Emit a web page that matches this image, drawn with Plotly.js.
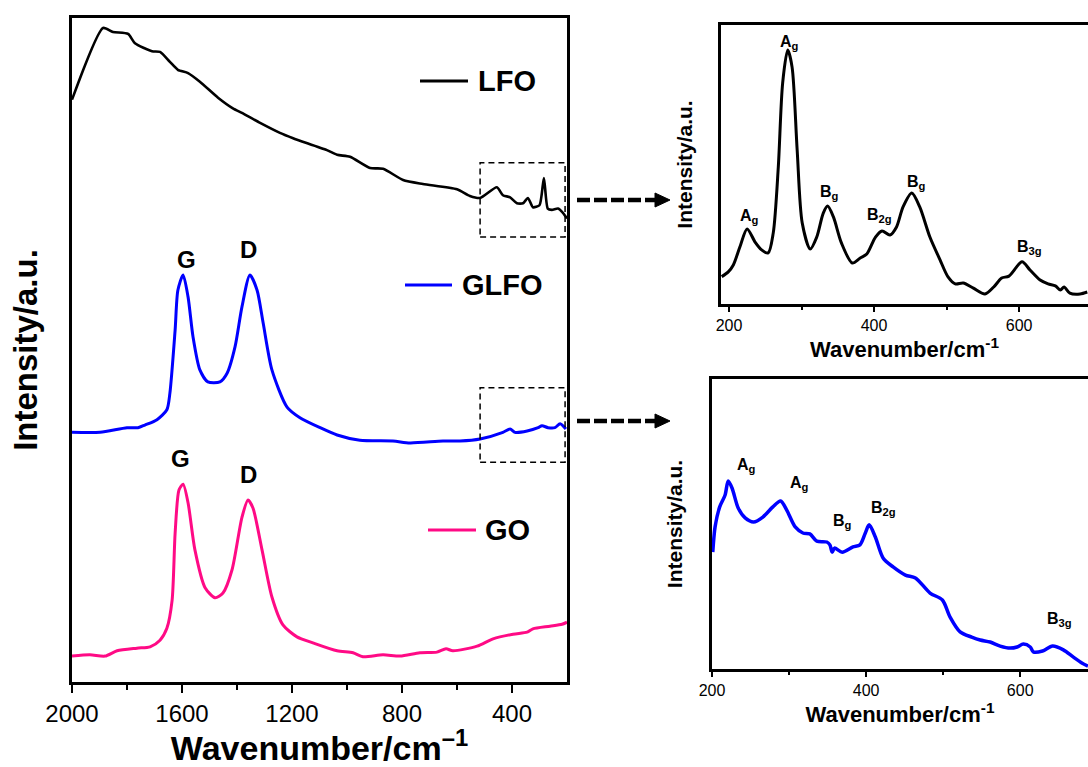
<!DOCTYPE html>
<html><head><meta charset="utf-8">
<script src="https://cdn.plot.ly/plotly-3.0.1.min.js"></script>
<style>html,body{margin:0;padding:0;background:#fff;}#chart{width:1088px;height:767px;}</style>
</head><body><div id="chart"></div>
<script>
// ---------- DATA ----------
const wavenumberLFO = [2000,1887,1851,1796,1771,1709,1680,1644,1615,1578,1535,1469,1415,1382,1316,1244,1196,1073,1036,989,916,869,796,724,600,553,516,455,433,407,382,360,342,324,300,284,270,255,233,218,200];
const intensityLFO  = [87.7,98.5,97.9,97.6,96.2,95.0,94.9,93.4,92.2,91.7,90.4,88.0,86.4,85.7,84.2,82.7,81.9,80.1,79.4,79.1,77.4,77.3,75.6,75.0,74.2,73.2,72.9,74.5,73.3,73.0,72.1,72.1,72.9,71.5,71.8,75.9,71.3,71.1,71.3,70.8,69.8];

const wavenumberGLFO = [2000,1898,1800,1760,1735,1691,1655,1644,1625,1615,1596,1578,1560,1535,1506,1462,1436,1407,1382,1353,1327,1305,1273,1218,1171,1098,1036,953,833,771,651,589,516,433,407,389,345,305,291,269,244,225,204];
const intensityGLFO  = [37.6,37.6,38.3,38.3,38.7,39.5,41.0,43.5,53.0,59.0,61.3,58.0,52.0,47.0,45.2,45.2,46.5,50.5,56.5,61.3,59.0,54.1,47.0,41.4,39.8,38.3,37.2,36.4,36.3,36.0,36.3,36.3,36.6,37.6,38.1,37.6,37.8,38.3,38.6,38.3,38.3,38.9,38.1];

const wavenumberGO = [2000,1935,1880,1836,1764,1716,1680,1655,1636,1625,1611,1596,1578,1553,1516,1480,1451,1418,1382,1360,1342,1309,1273,1233,1182,1124,1036,978,942,869,807,735,673,640,615,527,469,396,345,324,262,218,200];
const intensityGO  = [3.9,4.1,3.9,4.7,5.1,5.3,6.3,8.1,12.3,22.4,28.9,29.8,27.0,19.9,14.2,12.7,13.4,16.9,24.8,27.4,26.2,19.9,12.8,8.6,6.8,5.9,4.7,4.4,3.8,4.1,3.9,4.4,4.5,5.0,4.7,5.4,6.5,7.2,7.5,8.0,8.4,8.7,9.0];

const wavenumberLFOInset = [190,199,206,215,225,236,245,254,261,268,274,281,287,294,301,312,321,330,336,344,355,370,381,390,402,411,422,431,440,452,463,477,491,502,512,523,537,553,565,576,586,604,615,629,640,650,657,662,670,684,694];
const intensityLFOInset  = [9.8,11.5,14.0,20.4,26.9,22.2,19.4,18.3,25.4,49.1,79.2,91.0,84.9,55.2,29.0,19.7,24.0,32.6,35.1,31.2,21.9,14.7,16.5,17.9,24.0,26.2,24.7,27.6,34.8,39.8,34.8,24.0,15.8,9.7,7.2,7.5,5.7,3.6,6.1,9.3,10.0,15.1,12.2,8.6,7.2,6.5,5.0,6.1,3.9,3.6,4.3];

const wavenumberGLFOInset = [201,204,210,217,221,226,234,243,254,266,279,289,297,308,318,327,336,349,353,356,359,369,383,392,399,404,412,422,435,451,464,483,499,509,522,537,548,561,574,587,596,604,613,617,629,642,656,669,680,688];
const intensityGLFOInset  = [40.3,49.0,55.9,60.0,64.8,62.4,55.5,52.1,50.7,52.4,55.9,57.9,54.8,49.0,46.9,46.6,44.1,43.8,42.8,40.3,41.7,40.3,42.1,42.8,46.9,49.7,45.5,38.3,35.2,32.4,31.4,26.2,23.8,17.9,12.8,11.0,10.0,9.3,7.9,7.2,7.6,8.6,7.6,5.9,6.2,7.9,6.6,4.1,2.1,1.0];

const seriesNames = ['LFO', 'GLFO', 'GO'];
const mainTickVals = [2000, 1600, 1200, 800, 400];
const mainMinorTickVals = [1800, 1400, 1000, 600];
const insetTickVals = [200, 400, 600];
const insetMinorTickVals = [300, 500];

// peak labels
const mainPeakLabels = [
  {text: 'G', x: 1582, y: 63.7}, {text: 'D', x: 1360, y: 65.1},
  {text: 'G', x: 1607, y: 33.6}, {text: 'D', x: 1360, y: 31.2}
];
const topInsetLabels = [
  {text: 'A<sub>g</sub>', x: 228, y: 31.5}, {text: 'A<sub>g</sub>', x: 283, y: 93.9},
  {text: 'B<sub>g</sub>', x: 339, y: 40.1}, {text: 'B<sub>2g</sub>', x: 408, y: 31.9},
  {text: 'B<sub>g</sub>', x: 459, y: 43.7}, {text: 'B<sub>3g</sub>', x: 614, y: 20.1}
];
const bottomInsetLabels = [
  {text: 'A<sub>g</sub>', x: 245, y: 70.3}, {text: 'A<sub>g</sub>', x: 314, y: 63.8},
  {text: 'B<sub>g</sub>', x: 369, y: 51.0}, {text: 'B<sub>2g</sub>', x: 423, y: 55.5},
  {text: 'B<sub>3g</sub>', x: 651, y: 16.9}
];

// ---------- STYLE ----------
const W = 1088, H = 767;
const FONT = 'Liberation Sans, Arial, Helvetica, sans-serif';
const colors = {LFO: '#000000', GLFO: '#0000ff', GO: '#ff0a85'};
const px = v => v / W;
const py = v => 1 - v / H;

const traces = [
  {x: wavenumberLFO, y: intensityLFO, name: 'LFO', xaxis: 'x', yaxis: 'y', mode: 'lines',
   line: {color: colors.LFO, width: 2.6, shape: 'spline', smoothing: 0.6}},
  {x: wavenumberGLFO, y: intensityGLFO, name: 'GLFO', xaxis: 'x', yaxis: 'y', mode: 'lines',
   line: {color: colors.GLFO, width: 3, shape: 'spline', smoothing: 0.7}},
  {x: wavenumberGO, y: intensityGO, name: 'GO', xaxis: 'x', yaxis: 'y', mode: 'lines',
   line: {color: colors.GO, width: 3, shape: 'spline', smoothing: 0.7}},
  {x: wavenumberLFOInset, y: intensityLFOInset, name: 'LFO inset', xaxis: 'x2', yaxis: 'y2', mode: 'lines',
   line: {color: colors.LFO, width: 3, shape: 'spline', smoothing: 0.8}},
  {x: wavenumberGLFOInset, y: intensityGLFOInset, name: 'GLFO inset', xaxis: 'x3', yaxis: 'y3', mode: 'lines',
   line: {color: colors.GLFO, width: 3.5, shape: 'spline', smoothing: 0.8}}
];

const axisCommon = {showgrid: false, zeroline: false, linecolor: '#000', showline: true, color: '#000'};

const layout = {
  width: W, height: H,
  margin: {l: 0, r: 0, t: 0, b: 0},
  paper_bgcolor: '#fff', plot_bgcolor: '#fff',
  showlegend: false,
  font: {family: FONT, color: '#000'},
  xaxis: Object.assign({}, axisCommon, {
    domain: [px(72), px(567)], range: [2000, 200], anchor: 'y',
    linewidth: 3, mirror: true, ticks: 'outside', ticklen: 8, tickwidth: 2, tickcolor: '#000',
    tickmode: 'array', tickvals: mainTickVals, ticktext: mainTickVals.map(String),
    minor: {tickmode: 'array', tickvals: mainMinorTickVals, ticks: 'outside', ticklen: 5, tickwidth: 2, tickcolor: '#000'},
    tickfont: {size: 24, family: FONT, color: '#000'},
    title: {text: 'Wavenumber/cm<sup>–1</sup>', font: {size: 34, family: FONT, weight: 'bold', color: '#000'}, standoff: 3}
  }),
  yaxis: Object.assign({}, axisCommon, {
    domain: [py(682), py(18)], range: [0, 100], anchor: 'x',
    linewidth: 3, mirror: true, ticks: '', showticklabels: false,
    title: {text: 'Intensity/a.u.', font: {size: 33, family: FONT, weight: 'bold', color: '#000'}, standoff: 22}
  }),
  xaxis2: Object.assign({}, axisCommon, {
    domain: [px(721), 1], range: [189, 695], anchor: 'y2',
    linewidth: 3, mirror: true, ticks: 'outside', ticklen: 5, tickwidth: 2, tickcolor: '#000',
    tickmode: 'array', tickvals: insetTickVals, ticktext: insetTickVals.map(String),
    minor: {tickmode: 'array', tickvals: insetMinorTickVals, ticks: 'outside', ticklen: 3, tickwidth: 2, tickcolor: '#000'},
    tickfont: {size: 16, family: FONT, color: '#000'},
    title: {text: 'Wavenumber/cm<sup>-1</sup>', font: {size: 22, family: FONT, weight: 'bold', color: '#000'}, standoff: 4}
  }),
  yaxis2: Object.assign({}, axisCommon, {
    domain: [py(304), py(25)], range: [0, 100], anchor: 'x2',
    linewidth: 3, mirror: false, ticks: '', showticklabels: false,
    title: {text: 'Intensity/a.u.', font: {size: 21, family: FONT, weight: 'bold', color: '#000'}, standoff: 20}
  }),
  xaxis3: Object.assign({}, axisCommon, {
    domain: [px(712), 1], range: [200, 688], anchor: 'y3',
    linewidth: 3, mirror: true, ticks: 'outside', ticklen: 5, tickwidth: 2, tickcolor: '#000',
    tickmode: 'array', tickvals: insetTickVals, ticktext: insetTickVals.map(String),
    minor: {tickmode: 'array', tickvals: insetMinorTickVals, ticks: 'outside', ticklen: 3, tickwidth: 2, tickcolor: '#000'},
    tickfont: {size: 16, family: FONT, color: '#000'},
    title: {text: 'Wavenumber/cm<sup>-1</sup>', font: {size: 22, family: FONT, weight: 'bold', color: '#000'}, standoff: 4}
  }),
  yaxis3: Object.assign({}, axisCommon, {
    domain: [py(669), py(379)], range: [0, 100], anchor: 'x3',
    linewidth: 3, mirror: false, ticks: '', showticklabels: false,
    title: {text: 'Intensity/a.u.', font: {size: 21, family: FONT, weight: 'bold', color: '#000'}, standoff: 21}
  }),
  annotations: [],
  shapes: []
};

// peak labels on main chart
mainPeakLabels.forEach(l => layout.annotations.push({
  x: l.x, y: l.y, xref: 'x', yref: 'y', text: l.text, showarrow: false,
  font: {size: 24, family: FONT, weight: 'bold', color: '#000'}
}));
topInsetLabels.forEach(l => layout.annotations.push({
  x: l.x, y: l.y, xref: 'x2', yref: 'y2', text: l.text, showarrow: false,
  font: {size: 16, family: FONT, weight: 'bold', color: '#000'}
}));
bottomInsetLabels.forEach(l => layout.annotations.push({
  x: l.x, y: l.y, xref: 'x3', yref: 'y3', text: l.text, showarrow: false,
  font: {size: 16, family: FONT, weight: 'bold', color: '#000'}
}));

// in-plot legends (line sample + label)
const legendPos = {LFO: {x0: 420, x1: 468, y: 81, tx: 476}, GLFO: {x0: 405, x1: 452, y: 285, tx: 460}, GO: {x0: 428, x1: 476, y: 530, tx: 483}};
seriesNames.forEach(n => {
  const p = legendPos[n];
  layout.shapes.push({type: 'line', xref: 'paper', yref: 'paper', x0: px(p.x0), x1: px(p.x1), y0: py(p.y), y1: py(p.y),
    line: {color: colors[n], width: 3}});
  layout.annotations.push({xref: 'paper', yref: 'paper', x: px(p.tx), y: py(p.y), xanchor: 'left', yanchor: 'middle',
    text: n, showarrow: false, font: {size: 29, family: FONT, weight: 'bold', color: '#000'}});
});

// dashed zoom boxes on the main chart
[[67.0, 78.2], [33.1, 44.3]].forEach(b => layout.shapes.push({
  type: 'rect', xref: 'x', yref: 'y', x0: 516, x1: 207, y0: b[0], y1: b[1],
  line: {color: '#000', width: 1.5, dash: '6px,4px'}
}));

// dashed arrows pointing to the insets
[200, 421].forEach(yy => {
  layout.shapes.push({type: 'line', xref: 'paper', yref: 'paper', x0: px(577), x1: px(656), y0: py(yy), y1: py(yy),
    line: {color: '#000', width: 4.5, dash: '13px,4px'}});
  layout.shapes.push({type: 'path', xref: 'paper', yref: 'paper',
    path: `M ${px(655)},${py(yy - 7)} L ${px(670)},${py(yy)} L ${px(655)},${py(yy + 7)} Z`,
    fillcolor: '#000', line: {color: '#000', width: 1}});
});

Plotly.newPlot('chart', traces, layout, {staticPlot: true, displayModeBar: false});
</script>
</body></html>
